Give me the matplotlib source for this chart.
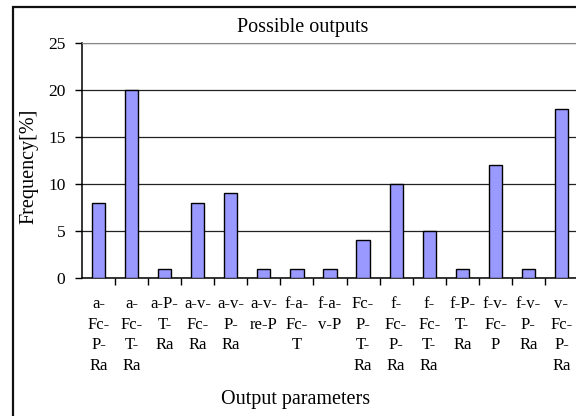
import matplotlib
matplotlib.use("Agg")
import matplotlib.pyplot as plt
from matplotlib.patches import Rectangle

# Data
categories = [
    "a-\nFc-\nP-\nRa", "a-\nFc-\nT-\nRa", "a-P-\nT-\nRa", "a-v-\nFc-\nRa",
    "a-v-\nP-\nRa", "a-v-\nre-P", "f-a-\nFc-\nT", "f-a-\nv-P",
    "Fc-\nP-\nT-\nRa", "f-\nFc-\nP-\nRa", "f-\nFc-\nT-\nRa", "f-P-\nT-\nRa",
    "f-v-\nFc-\nP", "f-v-\nP-\nRa", "v-\nFc-\nP-\nRa",
]
frequency = [8, 20, 1, 8, 9, 1, 1, 1, 4, 10, 5, 1, 12, 1, 18]
y_ticks = [0, 5, 10, 15, 20, 25]

plt.rcParams["font.family"] = ["Liberation Serif", "DejaVu Serif"]

W, H = 576, 416
fig = plt.figure(figsize=(W / 100, H / 100), dpi=100)

# chart-area border (right/bottom edges are cut off in the reference)
fig.patches.append(Rectangle((12.5 / W, -0.1), 1.2, 1 - 6.5 / H + 0.1,
                             transform=fig.transFigure, fill=False,
                             edgecolor="#111111", linewidth=1.6))

ax = fig.add_axes([82 / W, 1 - 278 / H, (578 - 82) / W, (278 - 43) / H])
x = list(range(len(categories)))
ax.bar(x, frequency, width=0.4, color="#9999FF", edgecolor="black", linewidth=1.0, zorder=3)

ax.set_xlim(-0.5, len(categories) - 0.5)
ax.set_ylim(0, 25)
ax.set_yticks(y_ticks)
ax.yaxis.grid(True, color="#222222", linewidth=0.9)
ax.set_axisbelow(True)

ax.set_xticks(x)
ax.set_xticklabels(categories, fontsize=12, linespacing=1.38, va="top")
ax.set_xticks([i - 0.5 for i in range(1, len(categories) + 1)], minor=True)
ax.tick_params(axis="x", which="major", length=0, pad=13)
ax.tick_params(axis="x", which="minor", length=5, width=1, direction="out")
ax.tick_params(axis="y", length=5, width=1, direction="out", labelsize=12.5, pad=7)

for s in ("left", "bottom"):
    ax.spines[s].set_color("black")
    ax.spines[s].set_linewidth(1.1)
ax.spines["top"].set_color("#888888")
ax.spines["right"].set_visible(False)

fig.text(303 / W, 1 - 32 / H, "Possible outputs", ha="center", va="baseline", fontsize=14.5)
fig.text(296 / W, 1 - 404 / H, "Output parameters", ha="center", va="baseline", fontsize=14.5)
fig.text(29 / W, 1 - 166 / H, "Frequency[%]", ha="center", va="center", rotation=90, fontsize=14.5)

fig.savefig("out.png", dpi=100)
